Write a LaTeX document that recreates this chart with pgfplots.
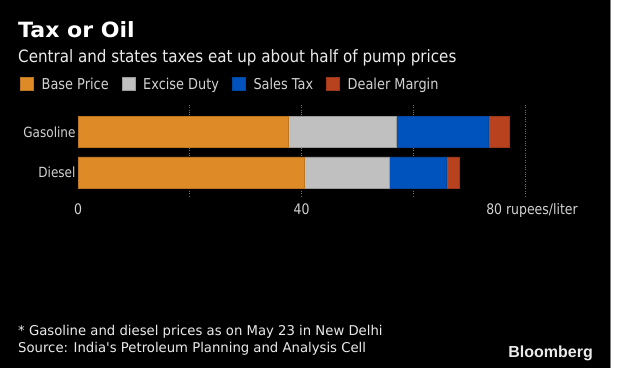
\documentclass[border=0pt]{standalone}
\usepackage{pgfplots}
\pgfplotsset{compat=1.18}
\usepackage{fontspec}
\setmainfont{DejaVu Sans}[FakeStretch=0.86]
\newfontfamily\titlefont{DejaVu Sans}[FakeStretch=1.05]
\newfontfamily\subfont{DejaVu Sans}[FakeStretch=0.89]
\newfontfamily\footfont{DejaVu Sans}[FakeStretch=0.98]
\newfontfamily\logofont{Liberation Sans}
\definecolor{cbase}{RGB}{222,139,39}
\definecolor{cexcise}{RGB}{192,192,192}
\definecolor{csales}{RGB}{0,83,188}
\definecolor{cdealer}{RGB}{184,66,30}
\definecolor{txt}{RGB}{235,235,235}
\definecolor{lbl}{RGB}{210,210,210}
\definecolor{gridc}{RGB}{110,110,110}
\begin{document}
\begin{tikzpicture}[x=1bp,y=1bp]
\path[use as bounding box] (0,0) rectangle (640,368);
\fill[black] (0,0) rectangle (610,368);
\fill[white] (610,0) rectangle (640,368);
\draw[gray, line width=0.6bp] (610,0) -- (610,368);
\node[anchor=base west, inner sep=0pt, text=white, font=\titlefont\fontsize{21bp}{24bp}\selectfont\bfseries] at (18,330.7) {Tax or Oil};
\node[anchor=base west, inner sep=0pt, text=txt, font=\subfont\fontsize{17bp}{20bp}\selectfont] at (18,305.7) {Central and states taxes eat up about half of pump prices};
\node[anchor=base west, inner sep=0pt, text=txt, font=\footfont\fontsize{13.5bp}{16bp}\selectfont] at (18,32.3) {* Gasoline and diesel prices as on May 23 in New Delhi};
\node[anchor=base west, inner sep=0pt, text=txt, font=\footfont\fontsize{13.5bp}{16bp}\selectfont] at (18,15.3) {Source: India's Petroleum Planning and Analysis Cell};
\node[anchor=base east, inner sep=0pt, text=txt, font=\logofont\fontsize{16bp}{19bp}\selectfont\bfseries] at (593,11) {Bloomberg};
\begin{axis}[
  at={(78bp,172bp)}, anchor=south west,
  scale only axis, width=447bp, height=92bp,
  xbar stacked, bar width=31bp,
  xmin=0, xmax=80, ymin=-0.58, ymax=1.69,
  axis line style={draw=none}, tick style={draw=none},
  xtick={0,40,80}, xticklabels={0,40,\hspace*{14bp}80 rupees/liter},
  extra x ticks={20,40,60,80}, extra x tick labels={},
  extra x tick style={grid=major, major grid style={gridc, dotted, line width=0.8bp}},
  ytick={0,1}, yticklabels={Diesel,Gasoline},
  /pgf/number format/assume math mode=true,
  x tick label style={text=lbl, font=\fontsize{14.5bp}{16bp}\selectfont, yshift=-4bp},
  y tick label style={text=lbl, font=\fontsize{14bp}{16bp}\selectfont, xshift=1bp},
  legend columns=4,
  legend style={at={(-0.1297,1.30)}, anchor=north west, draw=none, fill=none,
    text=lbl, font=\fontsize{15bp}{17bp}\selectfont, inner sep=0pt,
    column sep=0bp,
    /tikz/every even column/.append style={column sep=13bp},
    nodes={inner sep=0pt, text depth=0pt}},
  legend image code/.code={\fill[#1] (0bp,-6.5bp) rectangle (13bp,6.5bp); \path (21bp,0);},
]
\addplot[fill=cbase, draw=cbase!85!black, line width=0.5bp] coordinates {(37.7,1) (40.5,0)};
\addplot[fill=cexcise, draw=cexcise!80!black, line width=0.5bp] coordinates {(19.3,1) (15.2,0)};
\addplot[fill=csales, draw=csales!85!black, line width=0.5bp] coordinates {(16.4,1) (10.2,0)};
\addplot[fill=cdealer, draw=cdealer!85!black, line width=0.5bp] coordinates {(3.7,1) (2.4,0)};
\legend{Base Price, Excise Duty, Sales Tax, Dealer Margin}
\end{axis}
\end{tikzpicture}
\end{document}
